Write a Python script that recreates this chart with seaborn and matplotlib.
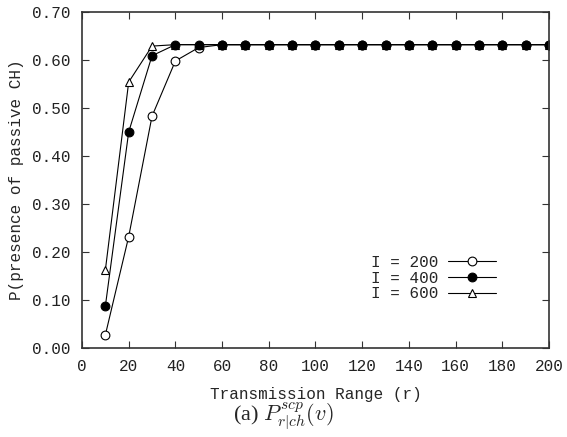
import pandas as pd
import matplotlib
matplotlib.use('Agg')
import matplotlib.pyplot as plt
import seaborn as sns

# transmission range and probability for each I
r = [10, 20, 30, 40, 50, 60, 70, 80, 90, 100, 110, 120, 130, 140, 150, 160, 170, 180, 190, 200]
p_200 = [0.027, 0.232, 0.483, 0.598, 0.626, 0.632, 0.632, 0.632, 0.632, 0.632,
         0.632, 0.632, 0.632, 0.632, 0.632, 0.632, 0.632, 0.632, 0.632, 0.632]
p_400 = [0.087, 0.450, 0.609, 0.632, 0.632, 0.632, 0.632, 0.632, 0.632, 0.632,
         0.632, 0.632, 0.632, 0.632, 0.632, 0.632, 0.632, 0.632, 0.632, 0.632]
p_600 = [0.162, 0.554, 0.629, 0.632, 0.632, 0.632, 0.632, 0.632, 0.632, 0.632,
         0.632, 0.632, 0.632, 0.632, 0.632, 0.632, 0.632, 0.632, 0.632, 0.632]
labels = ['I = 200', 'I = 400', 'I = 600']
x_ticks = [0, 20, 40, 60, 80, 100, 120, 140, 160, 180, 200]
y_ticks = [0.0, 0.1, 0.2, 0.3, 0.4, 0.5, 0.6, 0.7]

sns.set_style('ticks')
plt.rcParams['font.family'] = ['Liberation Mono', 'DejaVu Sans Mono']
plt.rcParams['mathtext.fontset'] = 'cm'

fs = 11.5
fig = plt.figure(figsize=(5.67, 4.37), dpi=100)
ax = fig.add_axes([0.1446, 0.2037, 0.8236, 0.7688])

style = {
    'I = 200': dict(marker='o', markerfacecolor='white'),
    'I = 400': dict(marker='o', markerfacecolor='black'),
    'I = 600': dict(marker='^', markerfacecolor='white'),
}
data = {'I = 200': p_200, 'I = 400': p_400, 'I = 600': p_600}

# draw 400 last so the filled circles sit on top of the plateau
for lab in ['I = 200', 'I = 600', 'I = 400']:
    df = pd.DataFrame({'r': r, 'p': data[lab]})
    sns.lineplot(data=df, x='r', y='p', ax=ax, color='black', linewidth=0.8,
                 markersize=6.3, markeredgecolor='black', markeredgewidth=0.8,
                 label=lab, **style[lab])

handles, labs = ax.get_legend_handles_labels()
order = [labs.index(l) for l in labels]
ax.legend([handles[i] for i in order], labels, frameon=False, markerfirst=False,
          loc='center right', bbox_to_anchor=(0.886, 0.208), borderaxespad=0,
          borderpad=0, handlelength=3.0, handletextpad=0.6, labelspacing=0.05,
          fontsize=fs)

ax.set_xlim(0, 200)
ax.set_ylim(0, 0.7)
ax.set_xticks(x_ticks)
ax.set_yticks(y_ticks)
ax.set_yticklabels(['%.2f' % v for v in y_ticks])
ax.tick_params(direction='in', top=True, right=True, length=5, width=0.8,
               labelsize=fs, colors='#333333', labelcolor='#222222')
ax.tick_params(axis='x', pad=8)
ax.tick_params(axis='y', pad=8)
for s in ax.spines.values():
    s.set_linewidth(1.2)
    s.set_color('#333333')

ax.set_xlabel('Transmission Range (r)', fontsize=fs, labelpad=9)
ax.set_ylabel('P(presence of passive CH)', fontsize=fs, labelpad=6)

fig.text(0.5, 1 - 416 / 437, r'(a) $P^{scp}_{r|ch}(v)$', ha='center', va='center',
         fontsize=16, family='Liberation Serif')

fig.savefig('out.png', dpi=100)
